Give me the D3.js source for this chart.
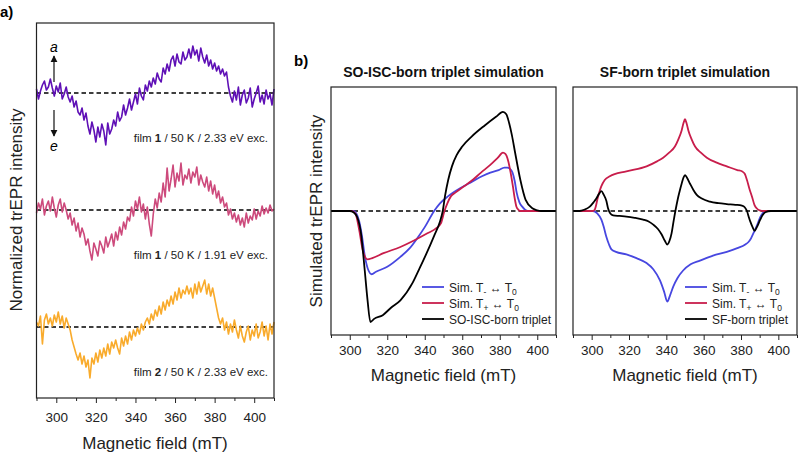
<!DOCTYPE html>
<html>
<head>
<meta charset="utf-8">
<script src="https://cdn.jsdelivr.net/npm/d3@7"></script>
<style>
  body { margin: 0; background: #fff; }
  svg { font-family: "Liberation Sans", Arial, sans-serif; }
</style>
</head>
<body>
<div id="graph"></div>
<script>
// ---- panel a: measured trEPR traces (1 mT steps, 290-410 mT), intensity a.u.
const fieldA = d3.range(290, 411, 1);
const film1Green = [4,-6,2,8,12,3,6,14,5,-3,7,1,10,-6,-1,6,-4,-9,-3,-14,
  -8,-19,-22,-15,-27,-20,-33,-41,-29,-37,-49,-34,-44,-31,-38,-52,-30,-41,-36,-27,
  -33,-19,-28,-24,-12,-22,-15,-6,-17,-9,-1,-11,5,-3,-7,8,2,12,6,15,
  9,20,14,11,25,19,29,22,33,37,27,39,31,29,41,33,36,44,35,47,
  38,43,32,45,36,30,38,27,33,24,30,22,27,19,24,17,21,6,-3,-9,
  2,-7,6,-12,-2,3,-10,-5,5,-14,-6,0,7,-9,-2,-11,3,-6,-1,-12,4];
const film1Red = [-3,7,1,11,-5,4,9,-1,13,2,-7,5,11,-2,7,0,-9,-3,-15,-8,
  -21,-13,-27,-18,-24,-35,-29,-41,-50,-33,-39,-46,-31,-36,-43,-27,-37,-31,-24,-36,
  -22,-30,-17,-25,-12,-19,-7,-11,3,-6,9,1,13,-2,6,-9,3,-14,-26,-4,
  11,2,17,8,27,13,42,19,31,45,23,37,29,47,25,35,31,41,27,38,
  33,43,25,35,28,23,33,19,29,16,25,12,19,7,13,3,7,-5,1,-9,
  -3,-12,-5,-15,-8,-17,-3,-13,-6,-10,1,-9,-1,-6,4,-4,2,-3,5,-1,1];
const film2Green = [5,1,11,-17,7,13,3,9,1,12,5,15,3,11,-1,9,3,-3,-13,-20,
  -27,-33,-26,-37,-29,-40,-33,-51,-31,-37,-26,-35,-23,-31,-21,-29,-17,-27,-15,-21,
  -13,-21,-27,-11,-19,-9,-17,-5,-13,-3,-9,-1,-7,3,-3,5,9,3,13,7,
  17,11,21,13,25,17,27,21,31,23,35,27,39,29,37,33,41,33,39,29,
  43,33,45,35,41,47,33,43,31,39,29,19,9,3,9,-3,5,-7,3,-5,
  7,-3,-11,1,-9,-15,-5,1,-13,-3,-9,3,-11,-5,5,-9,1,-13,3,-7,5];
const tracesA = [
  {values: film1Green, offset: 0,    color: "#5f10b6", film: "1", text: " / 50 K / 2.33 eV exc."},
  {values: film1Red,   offset: -117, color: "#cd4a7c", film: "1", text: " / 50 K / 1.91 eV exc."},
  {values: film2Green, offset: -234, color: "#f9ab2c", film: "2", text: " / 50 K / 2.33 eV exc."}
];

// ---- panel b: simulated spectra [field mT, intensity]
const soBlue = [[290,0],[302,0],[303.5,-0.02],[305,-0.08],[306.5,-0.2],[308,-0.36],[310,-0.48],[311.7,-0.51],[314,-0.49],
  [320,-0.45],[327,-0.37],[332,-0.3],[336,-0.22],[340,-0.13],[345,0],[348,0.06],[352.5,0.12],[359.6,0.19],[365,0.235],
  [370.5,0.28],[375,0.31],[379.4,0.33],[382.5,0.35],[384,0.35],[385.5,0.34],[386.8,0.31],[388,0.24],[389,0.15],
  [390.5,0.07],[392,0.035],[393.5,0.01],[395,0],[410,0]];
const soRed = [[290,0],[301,0],[303,-0.02],[305,-0.15],[307,-0.32],[309.5,-0.39],[312,-0.38],[318,-0.34],[327,-0.29],
  [334,-0.24],[341.4,-0.18],[346,-0.14],[348.6,-0.1],[350.5,0],[352,0.06],[354,0.12],[356.5,0.15],[361,0.2],
  [365.5,0.25],[370,0.31],[374.8,0.37],[379,0.43],[381.7,0.47],[383,0.46],[384.4,0.41],[385.8,0.31],[387,0.2],
  [388,0.1],[388.9,0.035],[390,0.01],[391,0],[410,0]];
const soBlack = [[290,0],[300,0],[302,-0.01],[304,-0.05],[306,-0.18],[308,-0.48],[309.5,-0.72],[311,-0.895],[313,-0.87],
  [317.6,-0.84],[322,-0.78],[327,-0.72],[333.5,-0.58],[337,-0.47],[341,-0.34],[345,-0.2],[348,-0.09],[349.6,0],
  [350.8,0.12],[352.5,0.25],[354.5,0.36],[357,0.45],[360,0.52],[365,0.6],[372,0.69],[378,0.76],[381.7,0.8],[383.5,0.78],
  [385,0.71],[386.5,0.61],[388.2,0.47],[391,0.25],[393.8,0.09],[397.6,0.02],[400,0.005],[402,0],[410,0]];
const sfBlue = [[290,0],[300.7,0],[303,-0.02],[305.2,-0.07],[306.5,-0.13],[307.9,-0.21],[309.3,-0.27],[310.6,-0.31],
  [313,-0.33],[318.6,-0.35],[324,-0.38],[329.4,-0.42],[333,-0.47],[336.6,-0.56],[338.8,-0.65],[340.5,-0.73],[342,-0.68],
  [343.7,-0.61],[346,-0.54],[349,-0.48],[353,-0.43],[358,-0.4],[365,-0.36],[372.4,-0.33],[378,-0.3],[382.3,-0.27],
  [384,-0.25],[385,-0.23],[386.3,-0.19],[387.6,-0.15],[389,-0.1],[390.3,-0.05],[391.5,-0.02],[393,0],[410,0]];
const sfRed = [[290,0],[300.5,0],[301.6,0.01],[303.4,0.115],[305.2,0.2],[307,0.25],[309.7,0.28],[318.6,0.32],[329.4,0.36],
  [335,0.4],[338.3,0.43],[341.5,0.47],[344.6,0.52],[346.5,0.58],[348.2,0.65],[349.2,0.71],[350,0.74],[350.8,0.71],
  [351.8,0.65],[353.5,0.58],[355.4,0.52],[358.5,0.47],[361.7,0.43],[367,0.39],[372.4,0.36],[378,0.33],[380.5,0.32],
  [382,0.3],[383.2,0.25],[384.5,0.18],[385.9,0.115],[387.2,0.05],[388.5,0.02],[390,0.005],[392,0],[410,0]];
const sfBlack = [[290,0],[293.5,0],[296,0.01],[299,0.035],[301,0.07],[302.5,0.1],[304,0.14],[305.2,0.16],[306.5,0.13],
  [307.9,0.08],[308.8,0.02],[310,-0.02],[311.5,-0.035],[315,-0.04],[318.6,-0.045],[323,-0.055],[327.6,-0.07],
  [330.5,-0.085],[333,-0.11],[335.5,-0.145],[337.5,-0.19],[339.2,-0.24],[340.5,-0.27],[341.7,-0.24],[342.8,-0.18],
  [343.8,-0.09],[344.6,-0.02],[345.5,0.05],[346.4,0.115],[347.3,0.17],[348.2,0.22],[349.2,0.27],[350,0.29],[351,0.27],
  [352.7,0.22],[354.5,0.17],[356.3,0.13],[359,0.1],[363.4,0.075],[368,0.063],[372.4,0.056],[377,0.05],[380.5,0.043],
  [382,0.03],[383.2,0],[384.2,-0.05],[385,-0.086],[386.2,-0.13],[387.3,-0.16],[388.5,-0.13],[390.3,-0.07],
  [391.5,-0.035],[393,-0.01],[396,0],[410,0]];

const majorTicks = [300, 320, 340, 360, 380, 400];
const minorTicks = [290, 310, 330, 350, 370, 390, 410];
const blue = "#4747e0", red = "#c81d4b";

const svg = d3.select("#graph").append("svg")
  .attr("width", 800).attr("height", 452);

function frame(g, x, x0, x1, y0, y1, pad) {
  const axis = g.append("g").attr("transform", `translate(0,${y1})`)
    .call(d3.axisBottom(x).tickValues(majorTicks).tickSize(5).tickPadding(pad).tickFormat(d3.format("d")));
  axis.select(".domain").remove();
  axis.selectAll("text").attr("font-size", 13.5).attr("fill", "#222");
  axis.selectAll("line").attr("stroke", "#222");
  g.append("g").attr("transform", `translate(0,${y1})`)
    .call(d3.axisBottom(x).tickValues(minorTicks).tickSize(3).tickFormat(""))
    .call(a => a.select(".domain").remove())
    .selectAll("line").attr("stroke", "#222");
  g.append("rect").attr("x", x0).attr("y", y0).attr("width", x1 - x0).attr("height", y1 - y0)
    .attr("fill", "none").attr("stroke", "#222").attr("stroke-width", 1.2);
}

function baseline(g, x0, x1, yy) {
  g.append("line").attr("x1", x0).attr("x2", x1).attr("y1", yy).attr("y2", yy)
    .attr("stroke", "#000").attr("stroke-width", 1.4).attr("stroke-dasharray", "4.5,3");
}

// ---------------- panel a ----------------
const xa = d3.scaleLinear().domain([290, 410]).range([36.5, 274]);
const ya = d3.scaleLinear().domain([-305, 70]).range([398, 23]);
const ga = svg.append("g");

tracesA.forEach(t => {
  baseline(ga, xa(290), xa(410), ya(t.offset));
  ga.append("path").datum(t.values)
    .attr("fill", "none").attr("stroke", t.color).attr("stroke-width", 1.6)
    .attr("stroke-linejoin", "round")
    .attr("d", d3.line().x((d, i) => xa(fieldA[i])).y(d => ya(d + t.offset)));
  const lbl = ga.append("text").attr("x", 268).attr("y", ya(t.offset) + 49)
    .attr("text-anchor", "end").attr("font-size", 11.5).attr("fill", "#222");
  lbl.append("tspan").text("film ");
  lbl.append("tspan").attr("font-weight", "bold").text(t.film);
  lbl.append("tspan").text(t.text);
});
frame(ga, xa, 36.5, 274, 23, 398, 9);

// a / e arrows
svg.append("defs").append("marker").attr("id", "ah").attr("viewBox", "0 0 10 10")
  .attr("refX", 9).attr("refY", 5).attr("markerWidth", 6).attr("markerHeight", 6).attr("orient", "auto")
  .append("path").attr("d", "M0,0 L10,5 L0,10 z").attr("fill", "#111");
ga.append("line").attr("x1", 54).attr("x2", 54).attr("y1", 82).attr("y2", 56)
  .attr("stroke", "#111").attr("stroke-width", 1.2).attr("marker-end", "url(#ah)");
ga.append("line").attr("x1", 54).attr("x2", 54).attr("y1", 110).attr("y2", 136)
  .attr("stroke", "#111").attr("stroke-width", 1.2).attr("marker-end", "url(#ah)");
ga.append("text").attr("x", 54).attr("y", 52).attr("text-anchor", "middle")
  .attr("font-size", 14).attr("font-style", "italic").text("a");
ga.append("text").attr("x", 54).attr("y", 151).attr("text-anchor", "middle")
  .attr("font-size", 14).attr("font-style", "italic").text("e");

ga.append("text").attr("transform", "translate(22,210) rotate(-90)").attr("text-anchor", "middle")
  .attr("font-size", 17).attr("fill", "#222").text("Normalized trEPR intensity");
ga.append("text").attr("x", 155).attr("y", 449).attr("text-anchor", "middle")
  .attr("font-size", 17).attr("fill", "#222").text("Magnetic field (mT)");
svg.append("text").attr("x", 0).attr("y", 17).attr("font-size", 15).attr("font-weight", "bold").text("a)");

// ---------------- panel b ----------------
svg.append("text").attr("x", 294).attr("y", 66).attr("font-size", 15).attr("font-weight", "bold").text("b)");
svg.append("text").attr("transform", "translate(322,211) rotate(-90)").attr("text-anchor", "middle")
  .attr("font-size", 17).attr("fill", "#222").text("Simulated trEPR intensity");

const panelsB = [
  {x0: 331, x1: 556, title: "SO-ISC-born triplet simulation",
   curves: [{d: soBlue, c: blue}, {d: soRed, c: red}, {d: soBlack, c: "#000"}],
   legend: "SO-ISC-born triplet", lx: 422},
  {x0: 573, x1: 797, title: "SF-born triplet simulation",
   curves: [{d: sfBlue, c: blue}, {d: sfRed, c: red}, {d: sfBlack, c: "#000"}],
   legend: "SF-born triplet", lx: 685}
];

panelsB.forEach(p => {
  const g = svg.append("g");
  const x = d3.scaleLinear().domain([290, 410]).range([p.x0, p.x1]);
  const y = d3.scaleLinear().domain([-1, 1]).range([335, 87]);
  baseline(g, p.x0, p.x1, y(0));
  p.curves.forEach(c => {
    g.append("path").datum(c.d).attr("fill", "none").attr("stroke", c.c).attr("stroke-width", 1.8)
      .attr("d", d3.line().curve(d3.curveMonotoneX).x(d => x(d[0])).y(d => y(d[1])));
  });
  frame(g, x, p.x0, p.x1, 87, 335, 5);
  g.append("text").attr("x", (p.x0 + p.x1) / 2).attr("y", 77).attr("text-anchor", "middle")
    .attr("font-size", 14).attr("font-weight", "bold").attr("fill", "#111").text(p.title);
  g.append("text").attr("x", (p.x0 + p.x1) / 2).attr("y", 381).attr("text-anchor", "middle")
    .attr("font-size", 17).attr("fill", "#222").text("Magnetic field (mT)");

  // legend
  const rows = [{c: blue, sub: "-"}, {c: red, sub: "+"}, {c: "#000"}];
  rows.forEach((r, i) => {
    const ly = 287 + i * 16;
    g.append("line").attr("x1", p.lx).attr("x2", p.lx + 22).attr("y1", ly).attr("y2", ly)
      .attr("stroke", r.c).attr("stroke-width", 1.8);
    const t = g.append("text").attr("x", p.lx + 27).attr("y", ly + 4.5)
      .attr("font-size", 12).attr("fill", "#222");
    if (r.sub) {
      t.append("tspan").text("Sim. T");
      t.append("tspan").attr("font-size", 8.5).attr("dy", 3).text(r.sub);
      t.append("tspan").attr("dy", -3).text(" \u2194 T");
      t.append("tspan").attr("font-size", 8.5).attr("dy", 3).text("0");
    } else {
      t.text(p.legend);
    }
  });
});
</script>
</body>
</html>
